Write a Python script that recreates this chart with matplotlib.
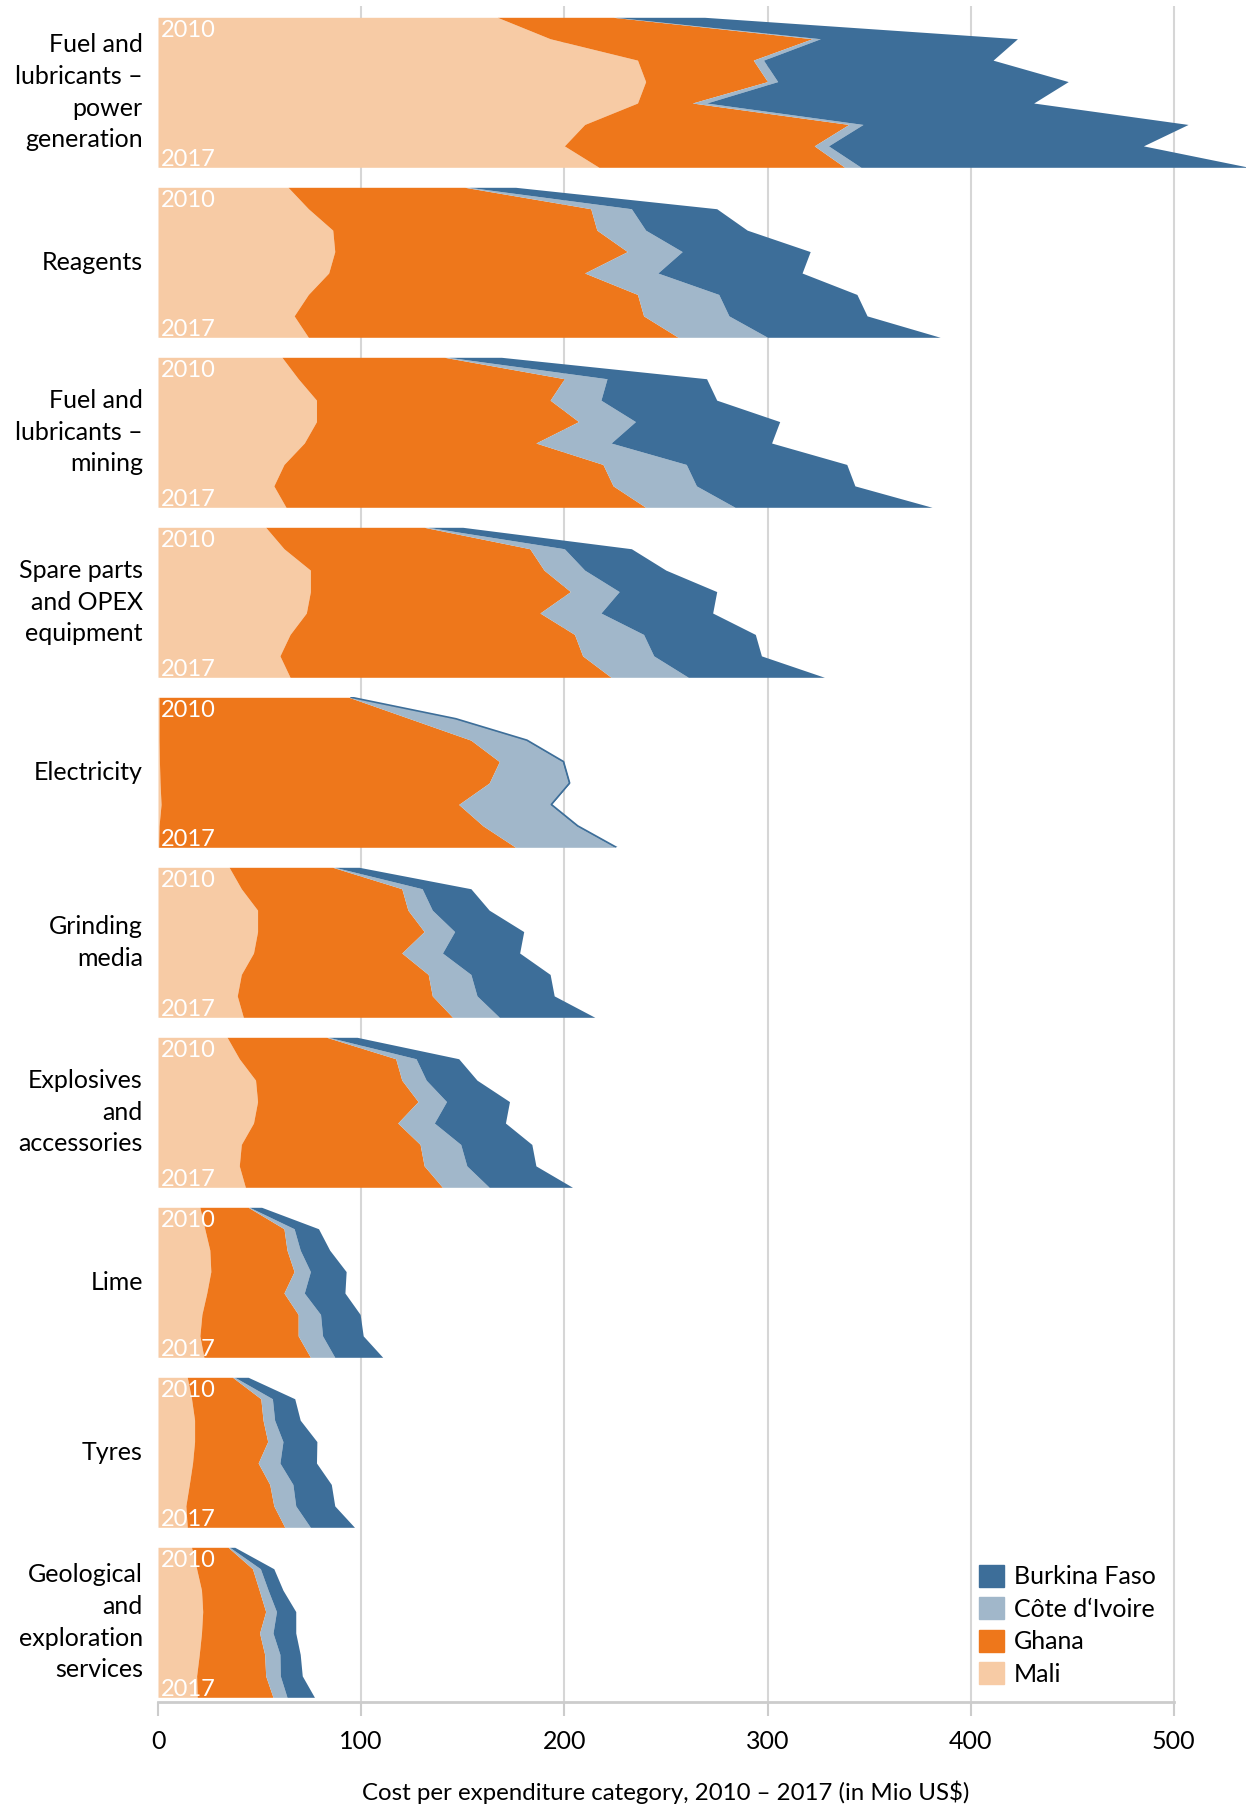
import numpy as np
import matplotlib
matplotlib.use("Agg")
import matplotlib.pyplot as plt
from matplotlib.patches import Patch

plt.rcParams['font.family'] = ['Lato', 'DejaVu Sans']

years = ["2010", "2017"]
categories = [
    "Fuel and\nlubricants –\npower\ngeneration",
    "Reagents",
    "Fuel and\nlubricants –\nmining",
    "Spare parts\nand OPEX\nequipment",
    "Electricity",
    "Grinding\nmedia",
    "Explosives\nand\naccessories",
    "Lime",
    "Tyres",
    "Geological\nand\nexploration\nservices",
]
countries = ["Mali", "Ghana", "Côte d‘Ivoire", "Burkina Faso"]
colors = ["#f7cba5", "#ee771b", "#a1b7ca", "#3d6e99"]

# values 2010..2017 per category, Mio US$
mali = [
    [167, 193, 236, 240, 236, 210, 200, 217],
    [64, 74, 86, 87, 84, 74, 67, 74],
    [61, 69, 78, 78, 72, 62, 57, 63],
    [53, 62, 75, 75, 73, 65, 60, 65],
    [0.5, 0.5, 0.5, 0.7, 1, 1.5, 0.5, 0.3],
    [35, 41, 49, 49, 47, 41, 39, 42],
    [34, 40, 48, 49, 47, 41, 40, 43],
    [20.6, 23, 25.5, 26, 24, 21.6, 20.6, 22.6],
    [14.4, 16.5, 18, 18, 17, 15.4, 13.7, 14.4],
    [16.5, 19, 21.4, 22, 21.4, 20.3, 19, 19.3],
]
ghana = [
    [57, 129, 57, 60, 27, 130, 123, 121],
    [87, 139, 130, 144, 126, 162, 172, 182],
    [80, 131, 115, 129, 114, 157, 167, 177],
    [78, 121, 115, 128, 115, 140, 149, 158],
    [93.5, 123.5, 153.5, 167.3, 162, 146.5, 159.5, 175.7],
    [51, 79, 74, 82, 73, 92, 96, 103],
    [49, 77, 72, 79, 71, 88, 91, 97],
    [23.8, 39, 38, 41, 38, 47.4, 48.4, 52.4],
    [22.3, 34.1, 33.7, 36, 32.3, 39.6, 43.3, 48],
    [18, 27.5, 28.4, 31, 28.6, 32.2, 34, 37.3],
]
cote = [
    [1, 4, 5, 5, 7, 7, 7, 8],
    [2, 20, 24, 27, 36, 40, 42, 44],
    [2, 21, 25, 28, 37, 41, 41, 44],
    [2, 17, 20, 24, 30, 34, 35, 38],
    [0.5, 22, 27, 31, 39, 45, 46, 49],
    [1, 10, 12, 15, 20, 21, 22, 23],
    [1, 10, 12, 14, 18, 20, 21, 23],
    [0.6, 5, 6.5, 8, 10, 11, 12, 12],
    [1.1, 5.7, 5.7, 7.5, 10.7, 11.4, 10.8, 12.6],
    [0.8, 3.9, 4.4, 5.3, 6.6, 7.5, 7.2, 6.9],
]
burkina = [
    [44, 97, 113, 143, 161, 160, 155, 191],
    [23, 42, 50, 63, 71, 68, 68, 85],
    [26, 49, 57, 71, 79, 79, 78, 97],
    [17, 33, 40, 48, 55, 55, 53, 67],
    [0.6, 0.6, 0.6, 0.6, 0.6, 0.6, 0.6, 0.6],
    [12, 24, 28, 34, 38, 39, 38, 47],
    [14, 21, 25, 31, 35, 35, 34, 41],
    [6, 12, 14.5, 17.6, 20, 19.5, 20, 23.6],
    [6.6, 11, 12.6, 16.7, 18, 18.9, 19.2, 21.7],
    [2.5, 6.6, 7.3, 9.5, 11.2, 10, 10.8, 13.5],
]
xticks = [0, 100, 200, 300, 400, 500]
xlabel = "Cost per expenditure category, 2010 – 2017 (in Mio US$)"

W, H = 1246, 1810
fig = plt.figure(figsize=(W / 100, H / 100), dpi=100)
xmax = 535.5
left = 158 / W

# background axes: grid + x axis
bg = fig.add_axes([left, 1 - 1702 / H, 1 - left, (1702 - 6) / H])
bg.set_xlim(0, xmax)
bg.set_ylim(0, 1)
for s in ["top", "right", "left"]:
    bg.spines[s].set_visible(False)
bg.spines["bottom"].set_color("#cccccc")
bg.spines["bottom"].set_linewidth(2)
bg.spines["bottom"].set_bounds(0, 500)
bg.set_yticks([])
bg.set_xticks(xticks)
bg.tick_params(axis="x", length=10, width=1.5, color="#cccccc", labelsize=18, pad=10)
for t in xticks[1:]:
    bg.axvline(t, color="#d6d6d6", lw=1.5, zorder=0)
bg.set_xlabel(xlabel, fontsize=17.3)
bg.xaxis.set_label_coords(250 / xmax, -0.0462)

yrs = np.arange(8)
for i, cat in enumerate(categories):
    top = 17.3 + i * 170
    ax = fig.add_axes([left, 1 - (top + 150) / H, 1 - left, 150 / H])
    ax.set_xlim(0, xmax)
    ax.set_ylim(7, 0)
    ax.axis("off")
    stack = np.cumsum([mali[i], ghana[i], cote[i], burkina[i]], axis=0)
    prev = np.zeros(8)
    for k in range(4):
        ax.fill_betweenx(yrs, prev, stack[k], color=colors[k], lw=0)
        prev = stack[k]
    if i == 4:
        ax.plot(stack[3], yrs, color=colors[3], lw=1.2)
    ax.text(-0.014, 0.5, cat, transform=ax.transAxes, ha="right", va="center",
            fontsize=18, linespacing=1.45)
    ax.text(0.003, 0.985, years[0], transform=ax.transAxes, ha="left", va="top",
            fontsize=17, color="white")
    ax.text(0.003, -0.02, years[1], transform=ax.transAxes, ha="left", va="bottom",
            fontsize=17, color="white")

handles = [Patch(color=colors[k], label=countries[k]) for k in [3, 2, 1, 0]]
fig.legend(handles=handles, loc="upper left", bbox_to_anchor=(966 / W, 1 - 1552 / H),
           frameon=False, fontsize=18, handlelength=1.0, handleheight=1.0,
           handletextpad=0.4, labelspacing=0.35, borderpad=0)

fig.savefig("out.png", dpi=100)
